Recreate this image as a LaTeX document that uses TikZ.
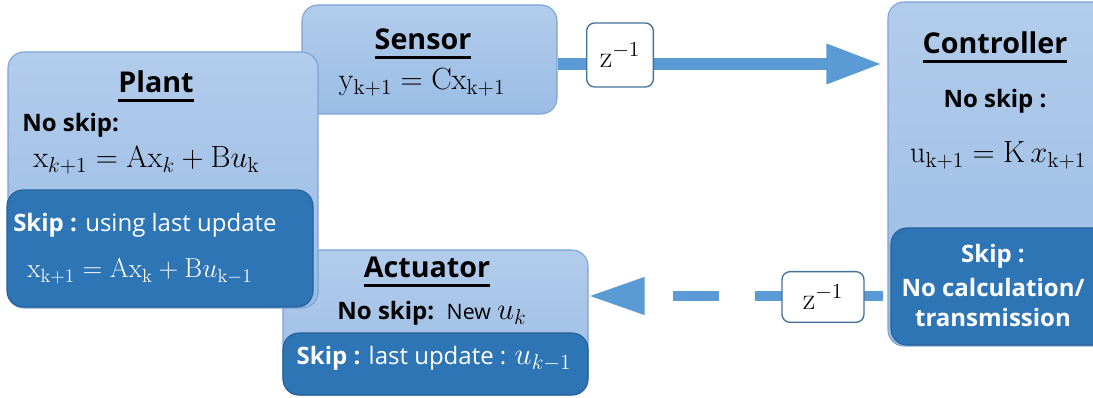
\RequirePackage{fix-cm}
\documentclass[tikz,border=0pt]{standalone}
\usepackage{amsmath}
\usepackage[no-math]{fontspec}
\setmainfont{Open Sans}
\usetikzlibrary{fit,arrows.meta}
\definecolor{lighttop}{RGB}{178,204,235}
\definecolor{lightbot}{RGB}{154,188,229}
\definecolor{lightline}{RGB}{122,163,214}
\definecolor{darkfill}{RGB}{46,117,182}
\definecolor{darkline}{RGB}{38,96,150}
\definecolor{flowblue}{RGB}{91,155,213}
\definecolor{delayline}{RGB}{65,113,156}
\newcommand{\headline}[1]{\sbox0{#1}\makebox[\wd0][l]{\usebox0}\llap{\rule[-6.5pt]{\wd0}{1.8pt}}}
\newcommand{\eqsize}{\fontsize{23}{26}\selectfont}

\begin{document}
\begin{tikzpicture}[x=0.75pt,y=-0.75pt,
  lightbox/.style={draw=lightline,line width=0.8pt,rounded corners=12pt,top color=lighttop,bottom color=lightbot,inner sep=0pt},
  darkbox/.style={draw=darkline,line width=0.8pt,fill=darkfill,rounded corners=12pt,inner sep=0pt},
  delaybox/.style={draw=delayline,line width=1pt,fill=white,rounded corners=6pt,inner sep=0pt,font=\eqsize},
  ttl/.style={anchor=base,inner sep=0pt,font=\fontsize{21.5}{25}\selectfont\bfseries},
  txt/.style={inner sep=0pt,font=\fontsize{18}{21}\selectfont},
  wtxt/.style={txt,text=white},
  eq/.style={inner sep=0pt,font=\eqsize},
  weq/.style={inner sep=0pt,font=\fontsize{20.5}{24}\selectfont,text=white},
  flowtop/.style={flowblue,line width=9pt,-{Triangle[length=42pt,width=27.75pt]}},
  flowbottom/.style={flowblue,line width=7.5pt,dash pattern=on 34.5pt off 27pt,-{Triangle[length=42pt,width=26.25pt]}}]
                \useasboundingbox (0,0) rectangle (1093,398);

                \node[lightbox, fit={(302,5) (557,114)}] (sensor) {};
                \node[lightbox, fit={(283,250) (588,395)}] (actuator) {};
                \node[darkbox, fit={(283,333) (588,395)}] (actuatorskip) {};
                \node[lightbox, fit={(8,52) (318,308)}] (plant) {};
                \node[darkbox, fit={(7,190) (313,307)}] (plantskip) {};
                \node[lightbox, fit={(888,2) (1110,346)}] (controller) {};
                \node[darkbox, fit={(891,228) (1110,345)}] (controllerskip) {};

                \node[ttl] (planttitle) at (156,93) {\headline{Plant}};
                \node[txt, anchor=base west] (plantno) at (22,132) {\bfseries No skip:};
                \node[eq, anchor=base west] (plantnoeq) at (33,168) {$\mathrm{x}_{k+1} = \mathrm{Ax}_{k} + \mathrm{B}u_{\mathrm{k}}$};
                \node[wtxt, anchor=base west] (plantsk) at (13,232) {\textbf{Skip :} using last update};
                \node[weq, anchor=base west] (plantskeq) at (27,278) {$\mathrm{x}_{\mathrm{k+1}} = \mathrm{Ax}_{\mathrm{k}} + \mathrm{B}u_{\mathrm{k-1}}$};

                \node[ttl] (sensortitle) at (423,50) {\headline{Sensor}};
                \node[eq, anchor=base] (sensoreq) at (422,90) {$\mathrm{y}_{\mathrm{k+1}} = \mathrm{Cx}_{\mathrm{k+1}}$};

                \node[ttl] (controllertitle) at (995,54) {\headline{Controller}};
                \node[txt, anchor=base] (controllerno) at (995,108) {\bfseries No skip :};
                \node[eq, anchor=base] (controllereq) at (998,163) {$\mathrm{u}_{\mathrm{k+1}} = \mathrm{K}\,x_{\mathrm{k+1}}$};
                \node[wtxt, anchor=base] (controllersk) at (993,263) {\bfseries Skip :};
                \node[wtxt, anchor=base] (controllersk2) at (993,297) {\bfseries No calculation/};
                \node[wtxt, anchor=base] (controllersk3) at (993,327) {\bfseries transmission};

                \node[ttl] (actuatortitle) at (427,278) {\headline{Actuator}};
                \node[txt, anchor=base] (actuatorno) at (432,320) {\textbf{No skip:}\ \ {\fontsize{16}{19}\selectfont New} {\eqsize$u_k$}};
                \node[wtxt, anchor=base] (actuatorsk) at (434,365) {\textbf{Skip :} last update : {\eqsize$u_{k-1}$}};

                \draw [flowtop, shorten >=3.75pt] (sensor.east |- 0,64) -- (controller.west |- 0,64);
                \draw [flowbottom, shorten <=3pt] (controller.west |- 0,296) -- (actuator.east |- 0,296);

                \node[delaybox, minimum width=50pt, minimum height=48pt] (delaytop) at (620,55) {$\mathrm{z}^{-1}$};
                \node[delaybox, minimum width=61.5pt, minimum height=38pt] (delaybottom) at (823,297) {$\mathrm{z}^{-1}$};
            \end{tikzpicture}
\end{document}
